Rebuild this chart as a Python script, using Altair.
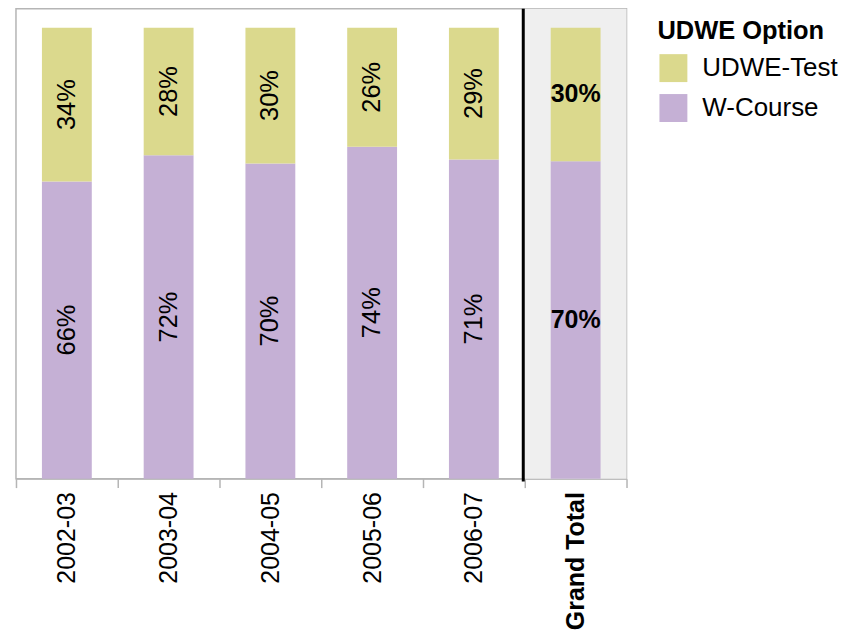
import altair as alt
import pandas as pd

years = ["2002-03", "2003-04", "2004-05", "2005-06", "2006-07", "Grand Total"]
w_course = [0.659, 0.717, 0.699, 0.736, 0.708, 0.704]
udwe_test = [0.341, 0.283, 0.301, 0.264, 0.292, 0.296]
options = ["UDWE-Test", "W-Course"]
colors = ["#dbd98d", "#c5b0d5"]

rows = []
for y, w, u in zip(years, w_course, udwe_test):
    rows.append({"year": y, "option": "W-Course", "share": w, "ord": 0})
    rows.append({"year": y, "option": "UDWE-Test", "share": u, "ord": 1})
df = pd.DataFrame(rows)

W, H = 612, 471
YMAX = 471 / 452
FONT = "Liberation Sans"

xscale = alt.Scale(domain=years, paddingInner=0, paddingOuter=0)
yscale = alt.Scale(domain=[0, YMAX], nice=False, zero=True)

xenc = alt.X(
    "year:N",
    scale=xscale,
    sort=years,
    title=None,
    axis=alt.Axis(
        labelAngle=-90,
        labelFontSize=25,
        labelFont=FONT,
        labelColor="black",
        labelPadding=4,
        labelFontWeight=alt.ExprRef(expr="datum.value == 'Grand Total' ? 'bold' : 'normal'"),
        tickBand="extent",
        tickSize=9,
        tickColor="#b5b5b5",
        tickWidth=1.5,
        domainColor="#b5b5b5",
        domainWidth=1.5,
        grid=False,
        labelOverlap=False,
    ),
)

base = alt.Chart(df)

bg = alt.Chart(pd.DataFrame({"year": ["Grand Total"]})).mark_bar(
    color="#efefef"
).encode(
    x=alt.X("year:N", scale=xscale, sort=years, title=None),
    y=alt.value(0),
    y2=alt.value(H),
)

stacked = base.transform_stack(
    stack="share", groupby=["year"], as_=["y0", "y1"], sort=[alt.SortField("ord", order="ascending")]
).transform_calculate(mid="(datum.y0 + datum.y1) / 2")

bars = stacked.mark_bar(width=alt.RelativeBandSize(0.49)).encode(
    x=xenc,
    y=alt.Y("y0:Q", scale=yscale, axis=None, title=None),
    y2="y1:Q",
    color=alt.Color(
        "option:N",
        scale=alt.Scale(domain=options, range=colors),
        legend=alt.Legend(
            title="UDWE Option",
            orient="none",
            legendX=643,
            legendY=10,
            titleFontSize=25.5,
            titleFont=FONT,
            titleFontWeight="bold",
            titleColor="black",
            titlePadding=10,
            labelFontSize=26,
            labelFont=FONT,
            labelColor="black",
            labelOffset=15,
            symbolOffset=2,
            symbolType="square",
            symbolSize=784,
            symbolStrokeWidth=0,
            symbolOpacity=1,
            rowPadding=12,
        ),
    ),
)

labels_years = stacked.transform_filter("datum.year != 'Grand Total'").mark_text(
    angle=270, fontSize=25.5, font=FONT, color="black", align="center", baseline="middle"
).encode(
    x=alt.X("year:N", scale=xscale, sort=years, title=None),
    y=alt.Y("mid:Q", scale=yscale),
    text=alt.Text("share:Q", format=".0%"),
)

labels_total = stacked.transform_filter("datum.year == 'Grand Total'").mark_text(
    fontSize=25, font=FONT, fontWeight="bold", color="black", align="center", baseline="middle"
).encode(
    x=alt.X("year:N", scale=xscale, sort=years, title=None),
    y=alt.Y("mid:Q", scale=yscale),
    text=alt.Text("share:Q", format=".0%"),
)

divider = alt.Chart(pd.DataFrame({"year": ["Grand Total"]})).mark_rule(
    color="black", strokeWidth=3, xOffset=-1.5
).encode(
    x=alt.X("year:N", scale=xscale, sort=years, title=None, bandPosition=0),
    y=alt.value(0),
    y2=alt.value(H + 3),
)

chart = alt.layer(bg, bars, labels_years, labels_total, divider).properties(
    width=W,
    height=H,
    autosize=alt.AutoSizeParams(type="none"),
    padding={"left": 8, "top": 0, "right": 215, "bottom": 160},
).configure_view(stroke="#b5b5b5", strokeWidth=1.5)

chart.save("out.html", embed_options={"renderer": "svg", "actions": False})
